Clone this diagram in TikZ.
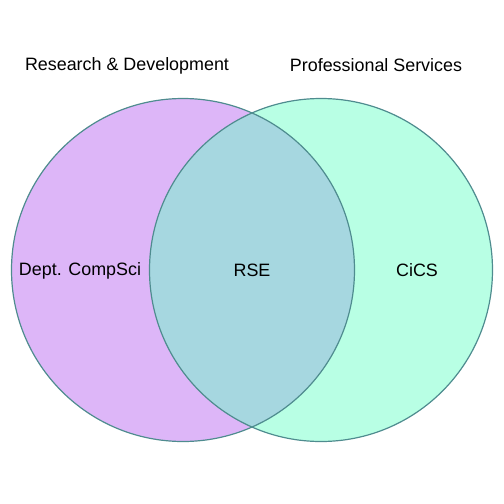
\documentclass[tikz,border=0pt]{standalone}
\usepackage{fontspec}
\setmainfont{Liberation Sans}
\definecolor{lfill}{HTML}{DDB6F8}
\definecolor{rfill}{HTML}{B8FFE4}
\definecolor{mfill}{HTML}{A6D7E0}
\definecolor{edge}{HTML}{4F8C8F}
\begin{document}
\begin{tikzpicture}[x=1pt,y=-1pt,
  lbl/.style={font=\fontsize{17.9}{21}\selectfont, text=black, inner sep=0pt},
  ring/.style={draw=edge, line width=1.2pt}]
\useasboundingbox (0,0) rectangle (504,504);
\coordinate (cl) at (183,270);
\coordinate (cr) at (321,270);
\fill[lfill] (cl) circle (171.5);
\fill[rfill] (cr) circle (171.5);
\begin{scope}
\clip (cl) circle (171.5);
\fill[mfill] (cr) circle (171.5);
\end{scope}
\draw[ring] (cl) circle (171.5);
\draw[ring] (cr) circle (171.5);
\node[lbl] (rd) at (127,65.5) {Research \& Development};
\node[lbl] (ps) at (376,65.5) {Professional Services};
\node[lbl] (cs) at (80,270.5) {Dept. CompSci};
\node[lbl] (rse) at (252,270.5) {RSE};
\node[lbl] (cics) at (417,270.5) {CiCS};
\end{tikzpicture}
\end{document}
